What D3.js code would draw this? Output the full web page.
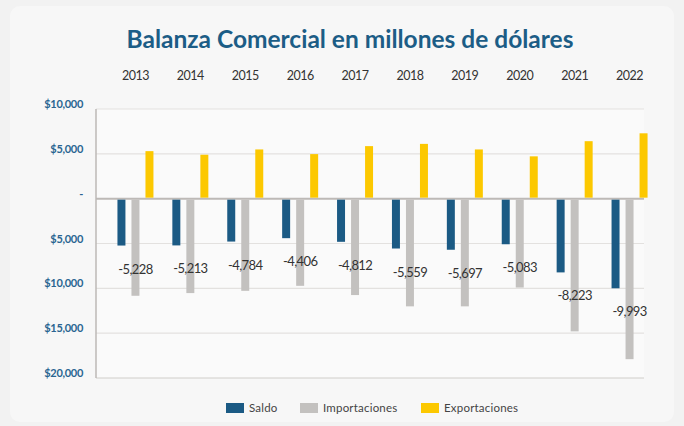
<!DOCTYPE html>
<html><head><meta charset="utf-8">
<script src="https://cdn.jsdelivr.net/npm/d3@7"></script>
<style>
html,body{margin:0;padding:0;background:#f3f3f3;}
svg{display:block;}
</style></head>
<body><svg id="c" width="684" height="426"></svg>
<script>
const years = ["2013","2014","2015","2016","2017","2018","2019","2020","2021","2022"];
const saldo = [-5228,-5213,-4784,-4406,-4812,-5559,-5697,-5083,-8223,-9993];
const importaciones = [-10830,-10530,-10280,-9720,-10750,-12010,-12010,-9910,-14800,-17900];
const exportaciones = [5300,4900,5490,4970,5860,6110,5490,4720,6410,7290];
const yTicks = [10000,5000,0,-5000,-10000,-15000,-20000];
const yTickLabels = ["$10,000","$5,000","-","$5,000","$10,000","$15,000","$20,000"];
const seriesNames = ["Saldo","Importaciones","Exportaciones"];
const seriesColors = ["#1b5a84","#c3c1bf","#fcc800"];

const svg = d3.select("#c");
const font = "Lato, 'Open Sans', sans-serif";

// card background
svg.append("rect").attr("x",0).attr("y",0).attr("width",684).attr("height",426).attr("fill","#f2f2f2");
svg.append("rect").attr("x",10).attr("y",6).attr("width",664).attr("height",416).attr("rx",10).attr("fill","#f7f7f7");

const plotL = 96, plotR = 644;
const y = d3.scaleLinear().domain([-20000,10000]).range([378,109]);
const x0 = d3.scaleBand().domain(years).range([108,657]);
const x1 = d3.scaleBand().domain(seriesNames).range([-18,18]).paddingInner(0.43).paddingOuter(0);

// plot background
svg.append("rect").attr("x",plotL).attr("y",y(10000)).attr("width",plotR-plotL).attr("height",y(-20000)-y(10000)).attr("fill","#fafafa");

// title
svg.append("text").attr("x",350).attr("y",48).attr("text-anchor","middle")
  .attr("font-family",font).attr("font-weight",700).attr("font-size",24.5)
  .attr("fill","#1c5d86").attr("letter-spacing","0")
  .text("Balanza Comercial en millones de dólares");

// gridlines
const grid = svg.append("g");
yTicks.forEach(t=>{
  grid.append("line").attr("x1",plotL).attr("x2",plotR).attr("y1",y(t)).attr("y2",y(t))
    .attr("stroke", t===0 ? "#bdb9b6" : (t===-20000 ? "#d0cdca" : "#e3e1df"))
    .attr("stroke-width", t===0 ? 2 : 1.2);
});
// left axis line
svg.append("line").attr("x1",plotL).attr("x2",plotL).attr("y1",y(10000)).attr("y2",y(-20000))
  .attr("stroke","#bdb9b6").attr("stroke-width",1.5);

// y axis labels
const yAxis = d3.axisLeft(y).tickValues(yTicks).tickSize(0)
  .tickFormat((d,i)=>yTickLabels[i]);
const ya = svg.append("g").attr("transform",`translate(86,-5)`).call(yAxis);
ya.select(".domain").remove();
ya.selectAll("text").attr("font-family",font).attr("font-weight",700).attr("font-size",11)
  .attr("fill","#2a6591").attr("letter-spacing","-0.3").attr("dx",0);

// year labels
const xAxis = d3.axisTop(x0).tickSize(0);
const xa = svg.append("g").attr("transform","translate(0,83)").call(xAxis);
xa.select(".domain").remove();
xa.selectAll("text").attr("font-family",font).attr("font-size",12.5).attr("fill","#333")
  .attr("letter-spacing","-0.5");

// bars
const data = years.map((yr,i)=>({yr, vals:[saldo[i],importaciones[i],exportaciones[i]]}));
const groups = svg.append("g").selectAll("g").data(data).join("g")
  .attr("transform",d=>`translate(${x0(d.yr)+x0.bandwidth()/2},0)`);
groups.selectAll("rect").data(d=>d.vals.map((v,j)=>({v,name:seriesNames[j],j})))
  .join("rect")
  .attr("x",d=>x1(d.name)).attr("width",x1.bandwidth())
  .attr("y",d=>d.v>=0 ? y(d.v) : y(0)+1)
  .attr("height",d=>Math.abs(y(d.v)-y(0))-1)
  .attr("fill",d=>seriesColors[d.j]);

// saldo labels
groups.append("text")
  .attr("x",0).attr("y",d=>y(d.vals[0])+28)
  .attr("text-anchor","middle").attr("font-family",font).attr("font-size",13)
  .attr("fill","#333").attr("letter-spacing","-0.6")
  .text(d=>d3.format(",")(d.vals[0]).replace("−","-"));

// legend
const legend = svg.append("g").attr("transform","translate(226,403)");
const legX = [0,74,195];
seriesNames.forEach((n,i)=>{
  const g = legend.append("g").attr("transform",`translate(${legX[i]},0)`);
  g.append("rect").attr("width",18).attr("height",10).attr("fill",seriesColors[i]);
  g.append("text").attr("x",23).attr("y",9).attr("font-family",font).attr("font-size",11.5)
    .attr("fill","#444").attr("letter-spacing","0.2").text(n);
});
</script></body></html>
